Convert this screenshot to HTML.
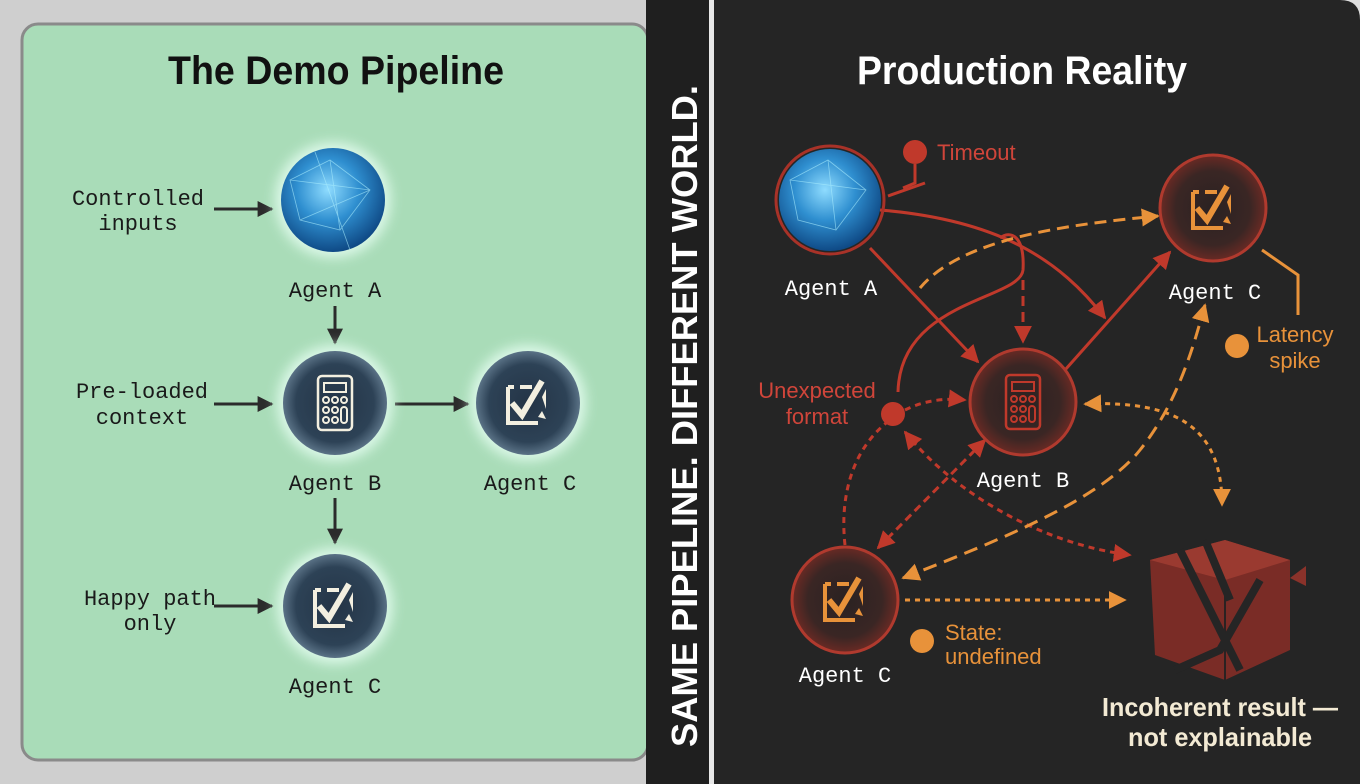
<!DOCTYPE html>
<html><head><meta charset="utf-8"><style>
html,body{margin:0;padding:0;background:#d0d0d0;}
svg{display:block}
.mono{font-family:"Liberation Mono","DejaVu Sans Mono",monospace;}
.sans{font-family:"Liberation Sans","DejaVu Sans",sans-serif;}
</style></head><body>
<svg width="1360" height="784" viewBox="0 0 1360 784" xmlns="http://www.w3.org/2000/svg">
<defs>
<radialGradient id="sph" cx="45%" cy="40%" r="60%">
<stop offset="0" stop-color="#8fdcff"/><stop offset="0.5" stop-color="#2f8fd0"/><stop offset="1" stop-color="#0f4a86"/>
</radialGradient>
<radialGradient id="dk" cx="50%" cy="50%" r="50%">
<stop offset="0" stop-color="#243446"/><stop offset="0.75" stop-color="#2d4256"/><stop offset="1" stop-color="#5a7286"/>
</radialGradient>
<radialGradient id="rd" cx="50%" cy="50%" r="50%">
<stop offset="0" stop-color="#2a2222"/><stop offset="0.7" stop-color="#3a2624"/><stop offset="1" stop-color="#6a2a24"/>
</radialGradient>
<filter id="glow" x="-50%" y="-50%" width="200%" height="200%"><feGaussianBlur stdDeviation="6"/></filter>
<marker id="ak" markerWidth="8" markerHeight="8" refX="6" refY="4" orient="auto" markerUnits="userSpaceOnUse"><path d="M0,0 L14,4 L0,8z" transform="scale(0.6,1)" fill="#2a2a2a"/></marker>
<marker id="ab" viewBox="0 0 10 10" markerWidth="16" markerHeight="16" refX="9" refY="5" orient="auto" markerUnits="userSpaceOnUse"><path d="M0,0 L10,5 L0,10z" fill="#2b2b2b"/></marker>
<marker id="ar" viewBox="0 0 10 10" markerWidth="18" markerHeight="18" refX="9" refY="5" orient="auto" markerUnits="userSpaceOnUse"><path d="M0,0 L10,5 L0,10z" fill="#c0392b"/></marker>
<marker id="ao" viewBox="0 0 10 10" markerWidth="18" markerHeight="18" refX="9" refY="5" orient="auto" markerUnits="userSpaceOnUse"><path d="M0,0 L10,5 L0,10z" fill="#e8923a"/></marker>
<marker id="aor" viewBox="0 0 10 10" markerWidth="18" markerHeight="18" refX="1" refY="5" orient="auto" markerUnits="userSpaceOnUse"><path d="M10,0 L0,5 L10,10z" fill="#e8923a"/></marker>
<marker id="arr" viewBox="0 0 10 10" markerWidth="18" markerHeight="18" refX="1" refY="5" orient="auto" markerUnits="userSpaceOnUse"><path d="M10,0 L0,5 L10,10z" fill="#c0392b"/></marker>
<g id="calc"><rect x="-17" y="-27" width="34" height="54" rx="4" fill="none" stroke="currentColor" stroke-width="2.5"/><rect x="-11" y="-20" width="22" height="9" fill="none" stroke="currentColor" stroke-width="2"/>
<g fill="none" stroke="currentColor" stroke-width="2"><circle cx="-9" cy="-3" r="3"/><circle cx="0" cy="-3" r="3"/><circle cx="9" cy="-3" r="3"/><circle cx="-9" cy="7" r="3"/><circle cx="0" cy="7" r="3"/><circle cx="-9" cy="17" r="3"/><circle cx="0" cy="17" r="3"/><rect x="6" y="4" width="6" height="16" rx="3"/></g></g>
<g id="chk"><path d="M-20,-16 L-14,-16 M-8,-16 L4,-16 M-20,-16 L-20,20 L10,20" fill="none" stroke="currentColor" stroke-width="4"/><path d="M-16,0 L-6,12 L14,-22" fill="none" stroke="currentColor" stroke-width="6"/><path d="M14,-6 L18,-14 L18,6z M10,14 L18,16 L14,8z" fill="currentColor"/></g>
</defs>

<!-- left bg -->
<rect x="0" y="0" width="660" height="784" fill="#cfcfcf"/>
<rect x="22" y="24" width="626" height="736" rx="16" fill="#a9dcb8" stroke="#8a8a8a" stroke-width="3"/>
<!-- divider -->
<rect x="646" y="0" width="64" height="784" fill="#1f1f1f"/>
<rect x="709" y="0" width="5" height="784" fill="#e8e8e8"/>
<rect x="714" y="0" width="646" height="784" fill="#252525"/>
<path d="M1340,0 Q1360,0 1360,20 L1360,0z" fill="#ddd"/>
<text class="sans" transform="translate(697,747) rotate(-90)" font-size="36" font-weight="bold" fill="#fff" textLength="662" lengthAdjust="spacingAndGlyphs">SAME PIPELINE. DIFFERENT WORLD.</text>

<!-- left content -->
<text class="sans" x="336" y="84" font-size="40" font-weight="bold" text-anchor="middle" fill="#111" textLength="336" lengthAdjust="spacingAndGlyphs">The Demo Pipeline</text>
<g class="mono" font-size="22" fill="#1a1a1a" text-anchor="middle">
<text x="138" y="205">Controlled</text><text x="138" y="230">inputs</text>
<text x="142" y="398">Pre-loaded</text><text x="142" y="424">context</text>
<text x="150" y="605">Happy path</text><text x="150" y="630">only</text>
<text x="335" y="297">Agent A</text><text x="335" y="490">Agent B</text><text x="530" y="490">Agent C</text><text x="335" y="693">Agent C</text>
</g>
<g stroke="#2b2b2b" stroke-width="3" fill="none" marker-end="url(#ab)">
<path d="M214,209 L272,209"/><path d="M214,404 L272,404"/><path d="M214,606 L272,606"/>
<path d="M335,306 L335,343"/><path d="M395,404 L468,404"/><path d="M335,498 L335,543"/>
</g>
<circle cx="333" cy="200" r="58" fill="#e8fff4" filter="url(#glow)" opacity="0.8"/>
<circle cx="333" cy="200" r="52" fill="url(#sph)"/>
<g stroke="#aef0ff" stroke-width="0.8" opacity="0.6" fill="none"><path d="M290,180 L330,160 L370,190 L340,230 L300,220z M330,160 L340,230 M290,180 L370,190 M300,220 L370,190 M315,152 L350,250"/></g>
<g>
<circle cx="335" cy="403" r="58" fill="#e8fff4" filter="url(#glow)" opacity="0.8"/>
<circle cx="335" cy="403" r="52" fill="url(#dk)"/>
<use href="#calc" x="335" y="403" color="#f3efe0"/>
<circle cx="528" cy="403" r="58" fill="#e8fff4" filter="url(#glow)" opacity="0.8"/>
<circle cx="528" cy="403" r="52" fill="url(#dk)"/>
<use href="#chk" x="528" y="403" color="#f3efe0"/>
<circle cx="335" cy="606" r="58" fill="#e8fff4" filter="url(#glow)" opacity="0.8"/>
<circle cx="335" cy="606" r="52" fill="url(#dk)"/>
<use href="#chk" x="335" y="606" color="#f3efe0"/>
</g>

<!-- right content -->
<text class="sans" x="1022" y="84" font-size="40" font-weight="bold" text-anchor="middle" fill="#fff" textLength="330" lengthAdjust="spacingAndGlyphs">Production Reality</text>
<!-- connectors -->
<g fill="none" stroke-width="3">
<path d="M880,210 C1000,220 1060,260 1105,318" stroke="#c0392b" marker-end="url(#ar)"/>
<path d="M870,248 L978,362" stroke="#c0392b" marker-end="url(#ar)"/>
<path d="M1065,370 L1170,252" stroke="#c0392b" marker-end="url(#ar)"/>
<path d="M1023,280 L1023,342" stroke="#c0392b" stroke-dasharray="10,6" marker-end="url(#ar)"/>
<path d="M898,392 C900,300 1020,300 1023,270 C1025,235 1010,230 1000,238" stroke="#c0392b"/>
<path d="M925,183 L888,196" stroke="#c0392b"/><path d="M915,164 L915,183 L903,188" stroke="#c0392b"/>
<path d="M920,288 C960,240 1060,225 1158,216" stroke="#e8923a" stroke-dasharray="12,7" marker-end="url(#ao)"/>
<path d="M905,410 C925,400 945,398 965,400" stroke="#c0392b" stroke-dasharray="6,5" marker-end="url(#ar)"/>
<path d="M845,545 C840,500 850,450 890,420" stroke="#c0392b" stroke-dasharray="6,5"/>
<path d="M878,548 L985,440" stroke="#c0392b" stroke-dasharray="8,5" marker-end="url(#ar)" marker-start="url(#arr)"/>
<path d="M905,432 C960,500 1050,545 1130,555" stroke="#c0392b" stroke-dasharray="6,5" marker-end="url(#ar)" marker-start="url(#arr)"/>
<path d="M903,578 C1000,540 1100,500 1140,450 C1180,400 1195,340 1205,305" stroke="#e8923a" stroke-dasharray="14,8" marker-end="url(#ao)" marker-start="url(#aor)"/>
<path d="M1085,404 C1180,400 1222,430 1222,505" stroke="#e8923a" stroke-dasharray="5,5" marker-end="url(#ao)" marker-start="url(#aor)"/>
<path d="M905,600 L1125,600" stroke="#e8923a" stroke-dasharray="5,5" marker-end="url(#ao)"/>
<path d="M1262,250 L1298,275 L1298,315" stroke="#e8923a"/>
</g>
<!-- nodes -->
<circle cx="830" cy="200" r="54" fill="none" stroke="#a83228" stroke-width="3"/>
<circle cx="830" cy="200" r="51" fill="url(#sph)"/>
<g stroke="#aef0ff" stroke-width="0.8" opacity="0.6" fill="none"><path d="M790,180 L828,160 L866,190 L836,230 L798,220z M828,160 L836,230 M790,180 L866,190"/></g>
<circle cx="1213" cy="208" r="53" fill="url(#rd)" stroke="#b03a2e" stroke-width="3"/>
<use href="#chk" x="1213" y="208" color="#e8923a"/>
<circle cx="1023" cy="402" r="53" fill="url(#rd)" stroke="#b03a2e" stroke-width="3"/>
<use href="#calc" x="1023" y="402" color="#c0392b"/>
<circle cx="845" cy="600" r="53" fill="url(#rd)" stroke="#b03a2e" stroke-width="3"/>
<use href="#chk" x="845" y="600" color="#e8923a"/>
<!-- cube -->
<g>
<path d="M1150,560 L1225,540 L1290,560 L1290,650 L1225,680 L1155,655z" fill="#7a2c26"/>
<path d="M1150,560 L1225,540 L1290,560 L1225,580z" fill="#9a3a30"/>
<path d="M1225,580 L1225,680" stroke="#2a2222" stroke-width="2"/>
<path d="M1180,550 L1215,620 L1240,670 M1260,580 L1220,650 L1175,670 M1205,540 L1230,600" stroke="#252525" stroke-width="8" fill="none"/>
<path d="M1290,578 L1306,566 L1306,586z" fill="#8a322a"/>
</g>
<!-- dots & labels -->
<circle cx="915" cy="152" r="12" fill="#c0392b"/>
<circle cx="893" cy="414" r="12" fill="#c0392b"/>
<circle cx="1237" cy="346" r="12" fill="#e8923a"/>
<circle cx="922" cy="641" r="12" fill="#e8923a"/>
<g class="sans" font-size="22">
<text x="937" y="160" fill="#d0453a">Timeout</text>
<text x="817" y="398" fill="#d0453a" text-anchor="middle">Unexpected</text><text x="817" y="424" fill="#d0453a" text-anchor="middle">format</text>
<text x="1295" y="342" fill="#e8923a" text-anchor="middle">Latency</text><text x="1295" y="368" fill="#e8923a" text-anchor="middle">spike</text>
<text x="945" y="640" fill="#e8923a">State:</text><text x="945" y="664" fill="#e8923a">undefined</text>
</g>
<g class="mono" font-size="22" fill="#fff" text-anchor="middle">
<text x="831" y="295">Agent A</text><text x="1215" y="299">Agent C</text><text x="1023" y="487">Agent B</text><text x="845" y="682">Agent C</text>
</g>
<g class="sans" font-size="26" font-weight="bold" fill="#f3ead4" text-anchor="middle">
<text x="1220" y="716" textLength="236" lengthAdjust="spacingAndGlyphs">Incoherent result —</text>
<text x="1220" y="746" textLength="184" lengthAdjust="spacingAndGlyphs">not explainable</text>
</g>
</svg>
</body></html>
